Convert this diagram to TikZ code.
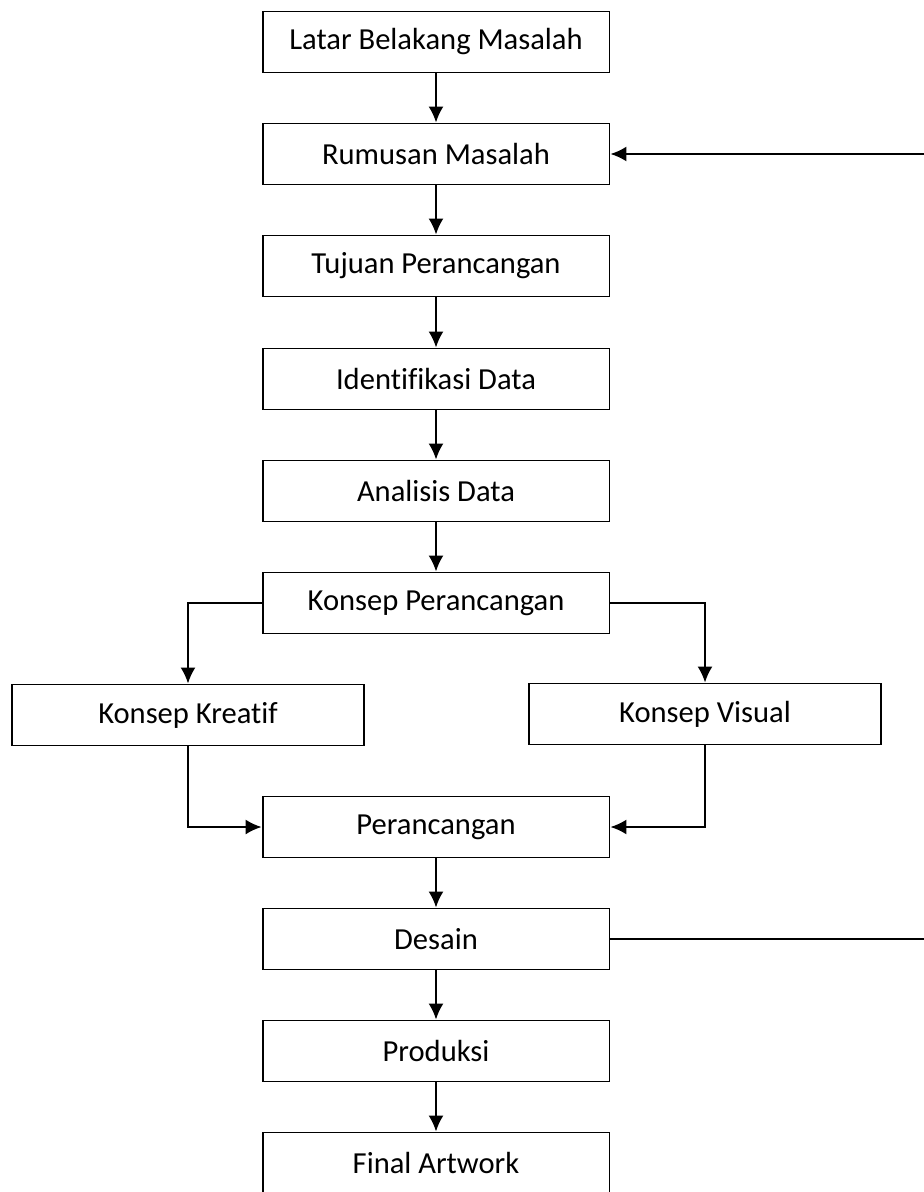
\documentclass[tikz,border=0pt]{standalone}
\usepackage{fontspec}
\setmainfont{Carlito}[Ligatures=NoCommon]
\usetikzlibrary{arrows.meta}

\begin{document}
\begin{tikzpicture}[x=0.02cm,y=-0.02cm]
    \tikzstyle{stage} = [draw,line width=1.1pt,minimum width=6.94cm,minimum height=1.22cm,inner sep=0pt,font=\fontsize{17.4}{20}\selectfont]
    \tikzstyle{flow} = [line width=1.1pt,-{Latex[length=3.2mm,width=3mm]}]

    \useasboundingbox (0,0) rectangle (923,1192);

    \node[stage] (latar) at (436,42) {Latar Belakang Masalah};
    \node[stage] (rumusan) at (436,154) {Rumusan Masalah};
    \node[stage] (tujuan) at (436,266) {Tujuan Perancangan};
    \node[stage] (identifikasi) at (436,379) {Identifikasi Data};
    \node[stage] (analisis) at (436,491) {Analisis Data};
    \node[stage] (konsep) at (436,603) {Konsep Perancangan};

    \node[stage,minimum width=7.04cm] (kreatif) at (188,715) {Konsep Kreatif};
    \node[stage,minimum width=7.04cm] (visual) at (705,714) {Konsep Visual};

    \node[stage] (perancangan) at (436,827) {Perancangan};
    \node[stage] (desain) at (436,939) {Desain};
    \node[stage] (produksi) at (436,1051) {Produksi};
    \node[stage] (final) at (436,1163) {Final Artwork};

    \coordinate (balikA) at (928,939);
    \coordinate (balikB) at (928,154);

    \draw[flow] (latar) -- (rumusan);
    \draw[flow] (rumusan) -- (tujuan);
    \draw[flow] (tujuan) -- (identifikasi);
    \draw[flow] (identifikasi) -- (analisis);
    \draw[flow] (analisis) -- (konsep);

    \draw[flow] (konsep.west) -| (kreatif.north);
    \draw[flow] (konsep.east) -| (visual.north);
    \draw[flow] (kreatif.south) |- (perancangan.west);
    \draw[flow] (visual.south) |- (perancangan.east);

    \draw[flow] (perancangan) -- (desain);
    \draw[flow] (desain) -- (produksi);
    \draw[flow] (produksi) -- (final);

    % balik ke rumusan masalah
    \draw[flow] (desain.east) -- (balikA) -- (balikB) -- (rumusan.east);

\end{tikzpicture}
\end{document}
